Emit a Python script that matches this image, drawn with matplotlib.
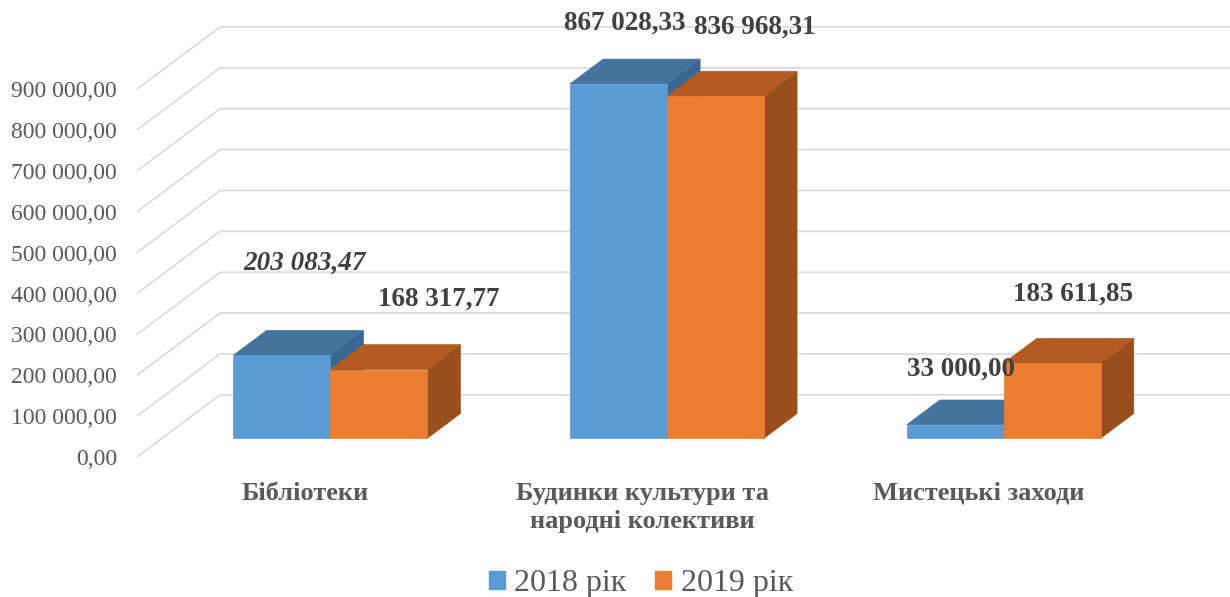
import numpy as np
import matplotlib
matplotlib.use("Agg")
import matplotlib.pyplot as plt
from matplotlib.patches import Polygon, Patch

plt.rcParams['font.family'] = ['Liberation Serif', 'DejaVu Serif']

# data
categories = ['Бібліотеки', 'Будинки культури та\nнародні колективи', 'Мистецькі заходи']
series_names = ['2018 рік', '2019 рік']
values_2018 = [203083.47, 867028.33, 33000.00]
values_2019 = [168317.77, 836968.31, 183611.85]
label_2018 = ['203 083,47', '867 028,33', '33 000,00']
label_2019 = ['168 317,77', '836 968,31', '183 611,85']
yticks = np.arange(0, 900001, 100000)

# colours: front, top, side
blue = ('#5B9BD5', '#44739E', '#396791')
orange = ('#ED7D31', '#B35B22', '#9A4E1C')

# fake 3d depth (category units, value units)
DX = 0.2465
DY = 152000
t0, t1 = 0.3, 0.7
w = 0.288

fig = plt.figure(figsize=(12.3, 5.97), dpi=100)
ax = fig.add_axes([137 / 1230, 140 / 597, 1093 / 1230, 430 / 597])
ax.set_xlim(-0.5, 2.5 + DX)
ax.set_ylim(0, 900000 + DY)
for s in ax.spines.values():
    s.set_visible(False)

# back wall grid + left diagonals
for v in yticks:
    ax.plot([-0.5, -0.5 + DX, 2.5 + DX], [v, v + DY, v + DY],
            color='#D9D9D9', lw=1.2, zorder=1, clip_on=False,
            solid_capstyle='butt')


def bar3d(x0, v, cols, z):
    x1 = x0 + w
    ax.bar(x0 + t0 * DX, v, bottom=t0 * DY, width=w, align='edge',
           color=cols[0], edgecolor=cols[0], lw=0.5, zorder=z + 0.2)
    top = [(x0 + t0 * DX, v + t0 * DY), (x1 + t0 * DX, v + t0 * DY),
           (x1 + t1 * DX, v + t1 * DY), (x0 + t1 * DX, v + t1 * DY)]
    side = [(x1 + t0 * DX, t0 * DY), (x1 + t1 * DX, t1 * DY),
            (x1 + t1 * DX, v + t1 * DY), (x1 + t0 * DX, v + t0 * DY)]
    ax.add_patch(Polygon(side, closed=True, fc=cols[2], ec=cols[2], lw=0.5, zorder=z))
    ax.add_patch(Polygon(top, closed=True, fc=cols[1], ec=cols[1], lw=0.5, zorder=z + 0.1))


x = np.arange(len(categories))
for i in x:
    bar3d(i - w, values_2018[i], blue, 2)
    bar3d(i, values_2019[i], orange, 3)

# data labels, anchored at back-top centre of each bar
off_2018 = [(-10, 67), (-27, 36), (-27, 31)]
off_2019 = [(27, 46), (6, 44), (-12, 44)]
for i in x:
    for vals, labs, offs, shift in [(values_2018, label_2018, off_2018, -w / 2),
                                    (values_2019, label_2019, off_2019, w / 2)]:
        ax.annotate(labs[i], (i + shift + t1 * DX, vals[i] + t1 * DY),
                    xytext=offs[i], textcoords='offset pixels',
                    ha='center', va='center', fontsize=19.5, fontweight='bold',
                    fontstyle='italic' if (vals is values_2018 and i == 0) else 'normal',
                    color='#404040', zorder=10, annotation_clip=False)

ax.set_yticks(yticks)
ax.set_yticklabels([f'{v:,.2f}'.replace(',', ' ').replace('.', ',') for v in yticks],
                   fontsize=17, color='#595959')
ax.set_xticks(x)
ax.set_xticklabels(categories, fontsize=19, fontweight='bold', color='#595959',
                   linespacing=1.3)
ax.tick_params(axis='y', length=0, pad=14.5)
ax.tick_params(axis='x', length=0, pad=18)

handles = [Patch(color=blue[0]), Patch(color=orange[0])]
fig.legend(handles, series_names, loc='lower center', bbox_to_anchor=(0.521, -0.05),
           ncol=2, frameon=False, fontsize=23, handlelength=0.5, handleheight=0.5,
           handletextpad=0.3, columnspacing=0.9, labelcolor='#595959')

fig.savefig('out.png', dpi=100)
